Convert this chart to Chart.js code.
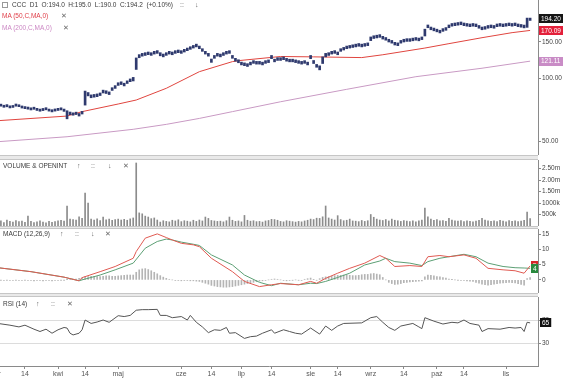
<!DOCTYPE html>
<html><head><meta charset="utf-8">
<script src="https://cdn.jsdelivr.net/npm/chart.js@4.4.1/dist/chart.umd.min.js"></script>
<style>
html,body{margin:0;padding:0;background:#fff;}
body{width:564px;height:380px;overflow:hidden;position:relative;font-family:"Liberation Sans",Arial,sans-serif;}
canvas{position:absolute;left:0;}
.sep{position:absolute;left:0;width:538px;background:#e9e9e9;border-top:1px solid #c6c6c6;border-bottom:1px solid #c6c6c6;}
.t{position:absolute;font-size:6.5px;line-height:8px;color:#3a3a3a;white-space:nowrap;}
.ic{position:absolute;font-size:7px;line-height:8px;color:#666;white-space:nowrap;}
</style></head><body>
<canvas id="cPrice" width="564" height="155" style="top:0"></canvas>
<div class="sep" style="top:155px;height:3px"></div>
<canvas id="cVol" width="564" height="66" style="top:160px"></canvas>
<div class="sep" style="top:226px;height:1px"></div>
<canvas id="cMacd" width="564" height="64" style="top:229px"></canvas>
<div class="sep" style="top:293px;height:2px"></div>
<canvas id="cRsi" width="564" height="83" style="top:297px"></canvas>

<div style="position:absolute;left:2px;top:2px;width:4px;height:4px;border:1px solid #999"></div>
<div class="t" style="left:12px;top:1px">CCC&nbsp; D1&nbsp; O:194.0&nbsp; H:195.0&nbsp; L:190.0&nbsp; C:194.2&nbsp; (+0.10%)</div>
<div class="ic" style="left:180px;top:1px">::</div>
<div class="ic" style="left:195px;top:1px">↓</div>
<div class="t" style="left:2px;top:12px;color:#e0404a">MA (50,C,MA,0)</div>
<div class="ic" style="left:61px;top:12px">✕</div>
<div class="t" style="left:2px;top:24px;color:#cc88c4">MA (200,C,MA,0)</div>
<div class="ic" style="left:63px;top:24px">✕</div>

<div class="t" style="left:3px;top:162px">VOLUME &amp; OPENINT</div>
<div class="ic" style="left:77px;top:162px">↑</div>
<div class="ic" style="left:91px;top:162px">::</div>
<div class="ic" style="left:108px;top:162px">↓</div>
<div class="ic" style="left:123px;top:162px">✕</div>

<div class="t" style="left:3px;top:230px">MACD (12,26,9)</div>
<div class="ic" style="left:60px;top:230px">↑</div>
<div class="ic" style="left:75px;top:230px">::</div>
<div class="ic" style="left:91px;top:230px">↓</div>
<div class="ic" style="left:105px;top:230px">✕</div>

<div class="t" style="left:3px;top:300px">RSI (14)</div>
<div class="ic" style="left:36px;top:300px">↑</div>
<div class="ic" style="left:51px;top:300px">::</div>
<div class="ic" style="left:67px;top:300px">✕</div>

<script>
// ---------- categories: GPW trading sessions ----------
const holidays = ['2014-04-18','2014-04-21','2014-05-01','2014-06-19','2014-08-15','2014-11-11'];
const days = [];
for (let d = new Date(Date.UTC(2014,2,3)); d.getTime() <= Date.UTC(2014,10,14); d.setUTCDate(d.getUTCDate()+1)) {
  const wd = d.getUTCDay(); const s = d.toISOString().slice(0,10);
  if (wd === 0 || wd === 6 || holidays.includes(s)) continue;
  days.push(s);
}
const xTickDates = ['2014-03-03','2014-03-17','2014-04-01','2014-04-14','2014-05-02','2014-06-02','2014-06-16','2014-07-01','2014-07-15','2014-08-01','2014-08-14','2014-09-01','2014-09-16','2014-10-01','2014-10-14','2014-11-03'];
const xTickLabels = ['mar','14','kwi','14','maj','cze','14','lip','14','sie','14','wrz','14','paź','14','lis'];

// ---------- price (daily low / high) ----------
const priceLow = [72.8,
73.2,73.6,72.7,73.1,72.2,72.6,73.6,73.2,72.1,71.6,
71.2,70.6,71.1,70.2,69.6,70.1,70.7,69.7,69.1,69.7,
70.2,70.6,69.5,64.0,67.0,66.6,67.1,66.0,67.5,74.5,
82.5,80.8,81.3,81.8,82.8,85.2,84.7,83.7,87.6,89.6,
92.6,93.5,92.1,94.6,96.5,97.3,110.5,125.8,128,129,
130.1,129.1,131,132,128.5,127,129.1,131,130,132,
133,132,134,136,138,140,141.8,139,135,131,
128,119.5,125,128,127,129,131,132,125,121,
119,116.2,115.2,114.2,116.2,118.2,117.2,117.2,116.2,118.2,
119.2,124.5,120.2,122.1,122.1,123.1,121.1,120.2,120.2,119.2,
118.2,117.2,118.2,116.2,124.5,118,113.2,110,118,127,
129,131,132,130,135,137,139,140,140.9,141.8,
142.8,141.8,142.8,143.8,152,155.6,156.6,157.6,154.6,152.7,
149.7,147.8,144.8,143.8,147.8,149.7,150.7,150.7,151.7,152.7,
151.7,153.7,160,175.3,171.4,169.4,167.5,165.5,168.4,170.4,
175.3,178.3,179.3,180.3,181.2,179.3,178.3,177.3,178.3,177.3,
174.3,171.4,172.4,174.3,175.3,174.3,177.3,178.3,177.3,178.3,
179.3,178.3,179.3,177.3,176.3,175,176,190];
const priceHigh = [74.6,
74.8,75.3,74.4,74.9,73.9,74.2,75.4,74.8,73.8,73.3,
72.9,72.3,72.8,71.9,71.3,71.8,72.4,71.3,70.8,71.4,
71.9,72.3,71.3,70.0,69.0,68.4,68.9,67.9,69.5,87.0,
85.6,83.4,83.8,84.3,85.2,87.9,87.3,86.2,90.3,92.4,
95.4,96.4,94.9,97.4,99.5,101.2,125.5,130.2,132,133,
134,133,135,136.1,133,131,133,135,134,136,
137,136,138,140,142.1,144.1,146.2,143.1,139,135,
132,124,129,132,131,133,135,136,129,125,
123,119.8,118.8,117.8,119.8,121.8,120.8,120.8,119.8,121.8,
122.8,129,123.8,125.9,125.9,126.9,124.9,123.8,123.8,122.8,
121.8,120.8,121.8,119.8,129,122,116.8,115,127,132,
133,135,136.1,134,139,141,143.1,144.1,145.1,146.2,
147.2,146.2,147.2,148.2,158.3,160.4,161.4,162.4,159.4,157.3,
154.3,152.3,149.2,148.2,152.3,154.3,155.3,155.3,156.3,157.3,
156.3,158.3,172.5,180.7,176.6,174.6,172.5,170.5,173.6,175.6,
180.7,183.7,184.7,185.7,186.8,184.7,183.7,182.7,183.7,182.7,
179.7,176.6,177.6,179.7,180.7,179.7,182.7,183.7,182.7,183.7,
184.7,183.7,184.7,182.7,181.7,180.5,195,195];
const lastClose = 194.2;
const priceTicks = [50, 100, 150];

// moving averages (session number -> value)
const ma50Day  = [1, 24, 29, 41, 47, 57, 68, 79, 81, 95, 106, 122, 129, 143, 151, 162, 172, 178];
const ma50Val  = [62.7, 66, 69.3, 75.4, 78.8, 89.7, 107.8, 120.5, 121.8, 127.5, 127, 126, 130, 140, 147, 157, 166, 170.09];
const ma200Day = [1, 24, 46, 57, 68, 79, 95, 117, 140, 162, 178];
const ma200Val = [49.7, 52.5, 57, 60.2, 64.3, 69.3, 77.3, 88.7, 102, 112, 121.11];

// ---------- volume (thousands) ----------
const volume = [200,
180,220,150,260,200,170,240,190,210,160,
430,200,150,180,230,170,140,200,160,190,
220,250,210,870,300,280,260,400,330,1430,
1000,300,260,310,240,390,270,300,250,280,
300,260,290,250,310,350,2740,570,530,430,
390,320,350,260,170,230,200,180,250,220,
270,190,230,210,180,250,200,260,220,390,
330,240,220,200,210,180,230,390,250,200,
220,180,460,250,210,230,190,200,170,220,
240,290,280,250,200,180,230,210,190,170,
200,180,220,250,300,280,340,330,400,870,
350,300,260,450,280,230,250,300,220,210,
190,240,200,230,500,380,300,260,240,280,
220,300,250,230,200,240,210,190,230,180,
220,260,780,400,300,250,280,220,240,200,
330,260,220,210,240,190,230,200,180,210,
250,330,260,220,200,230,190,250,210,180,
240,200,220,190,210,250,600,320];
const volumeTicks = [500, 1000, 1500, 2000, 2500];

// ---------- MACD ----------
const macdDay = [1,12,23,28,29,35,40,46,47,50,54,57,59,62,66,68,72,79,83,88,92,95,101,105,107,110,114,118,123,128,130,133,138,142,144,148,151,156,160,164,169,173,176,178];
const macdVal = [4.0,2.7,0.9,-0.3,0.75,2.7,4.4,7.1,9.3,13.7,15.1,13.9,13.1,12.0,11.5,10.9,7.1,2.7,-0.5,-2.2,-1.6,-1.2,-1.6,-0.5,-1.1,0.5,2.2,3.8,5.5,8.0,7.1,4.4,4.7,4.4,7.6,8.0,7.6,8.2,7.1,3.8,3.3,3.0,2.2,4.6];
const signalDay = [1,12,23,28,29,35,40,46,50,54,57,59,62,66,68,72,79,83,88,92,95,101,105,107,110,114,118,123,128,130,133,138,142,144,148,151,156,160,164,169,173,176,178];
const signalVal = [4.0,2.7,0.9,-0.3,0,1.6,3.3,5.5,10.4,12.6,13.4,13.1,12.4,11.7,11.3,8.2,4.9,1.6,-0.8,-1.9,-1.1,-1.6,-1.1,-1.2,-0.5,0.8,2.2,4.9,6.2,7.1,6.0,5.5,4.7,6.0,7.1,7.6,8.4,7.6,5.5,4.4,4.0,3.9,3.8];
const macdHist = [-0.1,
-0.1,-0.1,-0.2,-0.1,-0.2,-0.2,-0.1,-0.2,-0.2,-0.1,
-0.2,-0.2,-0.3,-0.2,-0.2,-0.3,-0.2,-0.2,-0.3,-0.2,
-0.2,-0.1,-0.1,0.1,0.2,0.3,0.3,0.5,0.8,1.1,
1.1,1.2,1.2,1.1,1.1,1.2,1.3,1.3,1.2,1.2,
1.3,1.4,1.5,1.6,1.6,1.6,2.5,3.3,3.6,3.7,
3.4,3.0,2.5,2.0,1.4,0.9,0.5,0.2,0,-0.2,
-0.2,-0.3,-0.2,-0.2,-0.3,-0.3,-0.4,-0.5,-0.8,-1.1,
-1.4,-1.8,-2.0,-2.2,-2.3,-2.4,-2.4,-2.3,-2.2,-2.0,
-1.8,-1.6,-1.4,-1.2,-1.0,-0.8,-0.6,-0.4,-0.3,-0.2,
0,0.2,0.3,0.2,0,-0.2,-0.3,-0.2,-0.1,0,
-0.1,-0.2,0.2,0.4,0.6,0.1,-0.1,0.4,0.8,1.0,
1.1,1.2,1.4,1.5,1.5,1.6,1.6,1.5,1.4,1.4,
1.5,1.7,1.8,1.8,2.0,2.1,1.9,1.7,0.8,0,
-0.8,-1.2,-1.5,-1.4,-1.2,-0.9,-0.8,-0.7,-0.6,-0.5,
-0.4,-0.3,1.0,1.6,1.5,1.3,1.1,1.0,0.8,0.6,
0.3,0.1,0,-0.1,-0.2,-0.2,-0.3,-0.4,-0.5,-0.8,
-1.1,-1.4,-1.6,-1.7,-1.6,-1.4,-1.2,-1.1,-1.0,-0.9,
-0.8,-0.9,-1.0,-1.2,-1.5,-1.7,0.4,0.8];
const macdTicks = [0, 5, 10, 15];

// ---------- RSI ----------
const rsiDay = [1,5,8,10,13,15,17,19,21,23,24,25,26,28,29,30,32,34,36,38,41,43,45,47,49,51,54,55,57,59,62,64,65,67,69,71,73,75,77,78,80,83,85,87,89,92,93,96,98,100,102,105,108,110,112,114,116,122,125,127,129,131,133,135,139,141,142,143,146,149,152,154,156,158,161,162,164,168,171,173,175,176,177,178];
const rsiVal = [64,61,58,61,54,50,54,47,53,57,56,47,44,47,53,70,64,66.5,70,66,77.5,76,78,87,88,88,88.5,78,78,74,76,70,78,66,58,48,53,52,57,47,48,38,41,42,47,53,47,53,50,47,45.5,56,45.5,59.5,52,59.5,64,65,74,76,66,57,52,59.5,64,58,55,74,68,63,66,65,70,64,61,50,55,54,57,56,57,50,66,65];
const rsiTicks = [30, 70];

// ---------- drawing ----------
const FONT = '"Liberation Sans", Arial, sans-serif';
const X_MIN = 1.7, X_MAX = 180.62;
const pts = (xs, ys) => xs.map((x, i) => ({x: x, y: ys[i]}));
const daily = arr => arr.map((v, i) => ({x: i, y: v}));

function xAxis(show) {
  return {type: 'linear', min: X_MIN, max: X_MAX, display: show, offset: false,
    grid: {display: true, offset: false, drawOnChartArea: false, tickLength: 3, color: '#8a8a8a'},
    border: {display: true, color: '#8a8a8a'},
    ticks: {autoSkip: false, maxRotation: 0, minRotation: 0, padding: 1, color: '#555',
      font: {size: 7, family: FONT}, callback: (v, i) => xTickLabels[i]},
    afterBuildTicks: s => { s.ticks = xTickDates.map(d => ({value: days.indexOf(d)})); },
    afterFit: s => { s.height = show ? 14 : 0; s.paddingLeft = 0; s.paddingRight = 0; }
  };
}
function yAxis(type, min, max, tickVals, fmt, gridOnArea) {
  return {type: type, position: 'right', min: min, max: max,
    grid: {drawOnChartArea: !!gridOnArea, tickLength: 3, color: gridOnArea ? '#dcdcdc' : '#8a8a8a', tickColor: '#8a8a8a'},
    border: {display: true, color: '#8a8a8a'},
    ticks: {padding: 1, color: '#444', autoSkip: false, font: {size: 6.5, family: FONT}, callback: v => fmt(v)},
    afterBuildTicks: s => { s.ticks = tickVals.map(v => ({value: v})); },
    afterFit: s => { s.width = 26; s.paddingTop = 0; s.paddingBottom = 0; }
  };
}
function boxes(items) {
  return {id: 'boxes', afterDraw(chart) {
    const ctx = chart.ctx, ys = chart.scales.y;
    ctx.save();
    ctx.font = '6.5px ' + FONT;
    items.forEach(it => {
      const y = ys.getPixelForValue(it.v);
      const w = it.w || (ctx.measureText(it.t).width + 4);
      ctx.fillStyle = it.bg;
      ctx.fillRect(it.x, Math.round(y - 4.5), w, 9);
      ctx.fillStyle = '#fff';
      ctx.textBaseline = 'middle';
      ctx.textAlign = 'left';
      ctx.fillText(it.t, it.x + 2, y + 0.5);
    });
    ctx.restore();
  }};
}
const base = {responsive: false, animation: false, events: [], layout: {padding: 0},
  plugins: {legend: {display: false}, tooltip: {enabled: false}}};

// price
new Chart('cPrice', {type: 'bar',
  data: {datasets: [
    {type: 'bar', data: priceLow.map((l, i) => ({x: i, y: [l, priceHigh[i]]})), backgroundColor: '#2f3a6e',
      barThickness: 2, grouped: false, borderWidth: 0, order: 0},
    {type: 'line', data: pts(ma50Day, ma50Val), borderColor: '#e0453f', borderWidth: 1, pointRadius: 0, tension: 0, order: 1},
    {type: 'line', data: pts(ma200Day, ma200Val), borderColor: '#c99ac4', borderWidth: 1, pointRadius: 0, tension: 0, order: 2}
  ]},
  options: Object.assign({}, base, {scales: {x: xAxis(false),
    y: yAxis('logarithmic', 42.9, 238.2, priceTicks, v => Number(v).toFixed(2))}}),
  plugins: [boxes([
    {v: ma200Val[ma200Val.length - 1], t: ma200Val[ma200Val.length - 1].toFixed(2), bg: '#c98cc6', x: 539, w: 24},
    {v: ma50Val[ma50Val.length - 1], t: ma50Val[ma50Val.length - 1].toFixed(2), bg: '#e3203a', x: 539, w: 24},
    {v: lastClose, t: lastClose.toFixed(2), bg: '#161616', x: 539, w: 24}
  ])]
});

// volume
new Chart('cVol', {type: 'bar',
  data: {datasets: [
    {type: 'bar', data: daily(volume), backgroundColor: '#8c8c8c', barThickness: 1, grouped: false, borderWidth: 0}
  ]},
  options: Object.assign({}, base, {scales: {x: xAxis(false),
    y: yAxis('linear', 0, 2870, volumeTicks, v => v < 1500 ? v + 'k' : (v / 1000).toFixed(2) + 'm')}})
});

// MACD
new Chart('cMacd', {type: 'bar',
  data: {datasets: [
    {type: 'bar', data: daily(macdHist), backgroundColor: '#b4b4b4', barThickness: 1, grouped: false, borderWidth: 0, order: 3},
    {type: 'line', data: pts(signalDay, signalVal), borderColor: '#5c9f74', borderWidth: 1, pointRadius: 0, tension: 0, order: 2},
    {type: 'line', data: pts(macdDay, macdVal), borderColor: '#e05a52', borderWidth: 1, pointRadius: 0, tension: 0, order: 1}
  ]},
  options: Object.assign({}, base, {scales: {x: xAxis(false),
    y: yAxis('linear', -4.3, 16.7, macdTicks, v => String(v))}}),
  plugins: [boxes([
    {v: macdVal[macdVal.length - 1], t: macdVal[macdVal.length - 1].toFixed(0), bg: '#d6262a', x: 531, w: 7},
    {v: signalVal[signalVal.length - 1], t: signalVal[signalVal.length - 1].toFixed(0), bg: '#2a8a3e', x: 531, w: 7}
  ])]
});

// RSI
new Chart('cRsi', {type: 'line',
  data: {datasets: [
    {data: pts(rsiDay, rsiVal), borderColor: '#555', borderWidth: 1, pointRadius: 0, tension: 0}
  ]},
  options: Object.assign({}, base, {scales: {x: xAxis(true),
    y: yAxis('linear', -10, 110, rsiTicks, v => String(v), true)}}),
  plugins: [boxes([
    {v: rsiVal[rsiVal.length - 1], t: String(rsiVal[rsiVal.length - 1]), bg: '#111', x: 540}
  ])]
});
</script>
</body></html>
